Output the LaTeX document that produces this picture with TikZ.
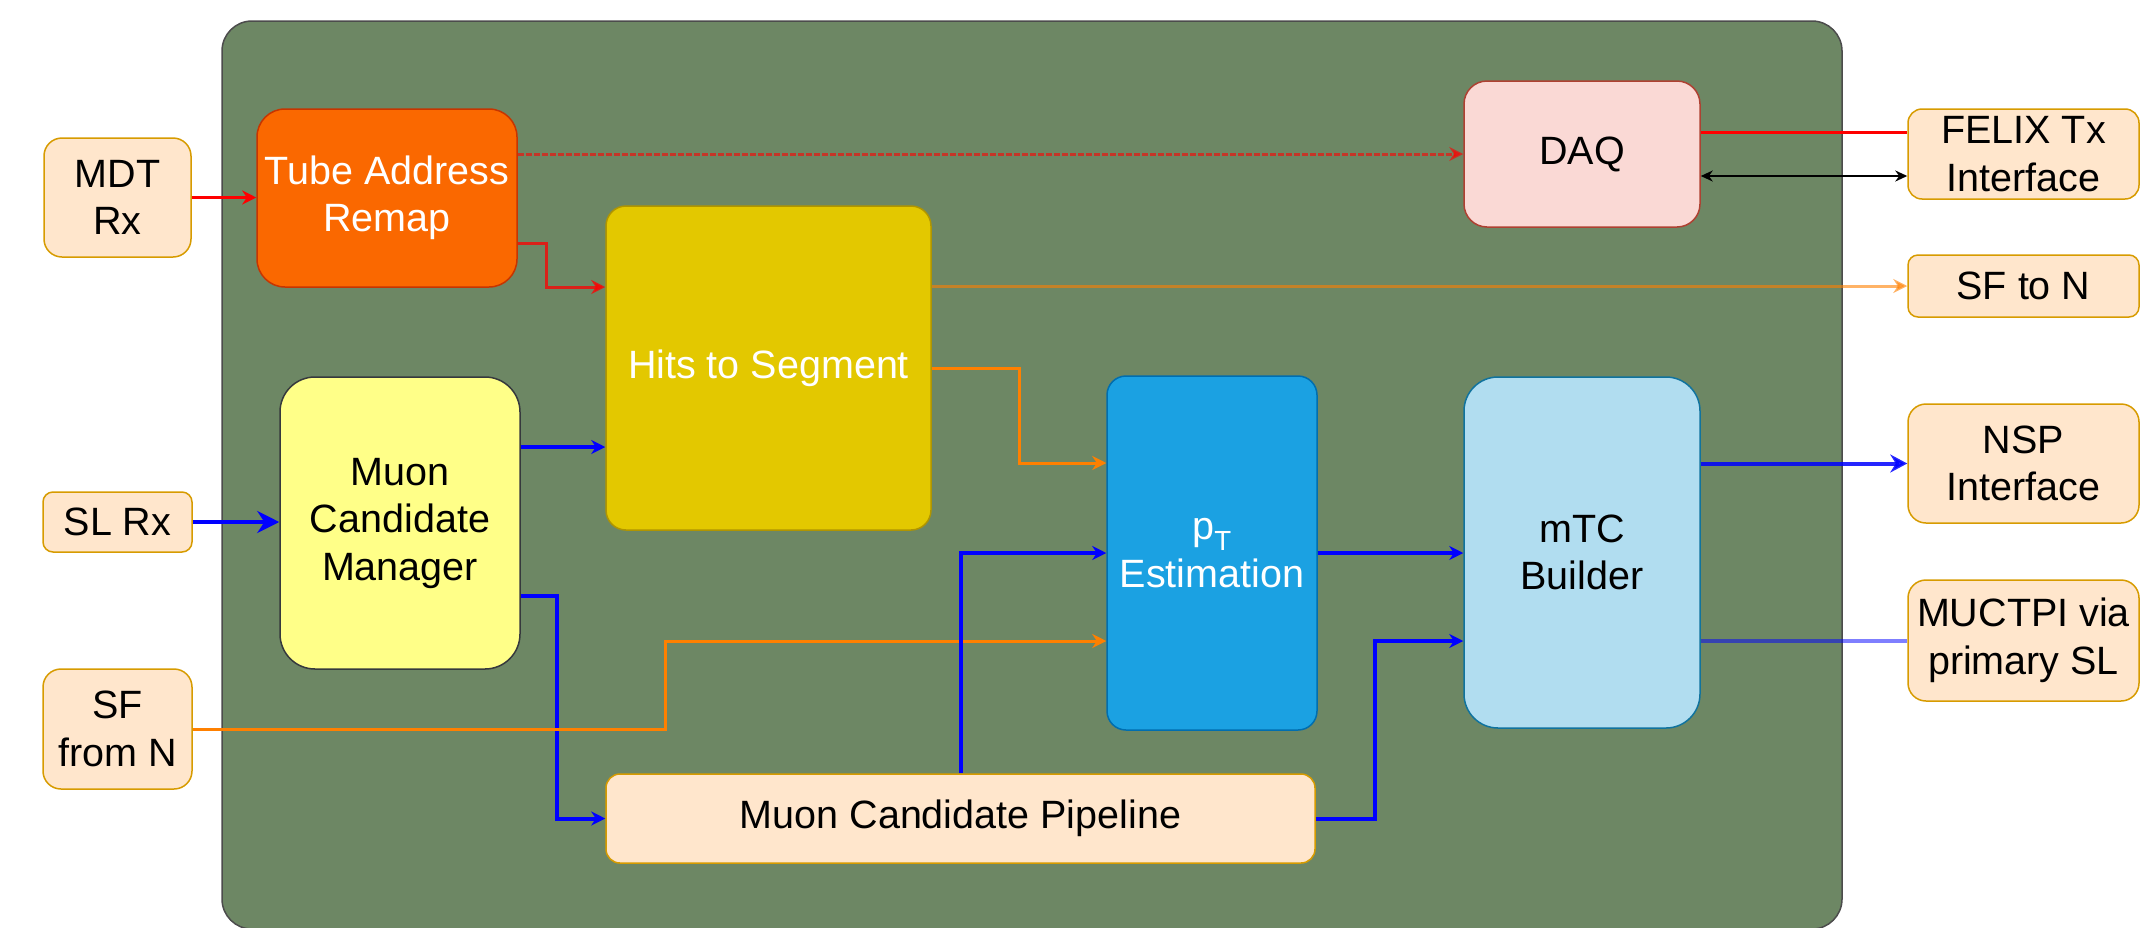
\documentclass[tikz,border=0pt]{standalone}
\usepackage{fontspec}
\setmainfont{Liberation Sans}
\usetikzlibrary{arrows.meta}
\definecolor{cgreen}{HTML}{6D8764}
\definecolor{cpeach}{HTML}{FFE6CC}
\definecolor{cpeachd}{HTML}{D79B00}
\definecolor{ctar}{HTML}{FA6800}
\definecolor{ctard}{HTML}{C73500}
\definecolor{chits}{HTML}{E3C800}
\definecolor{chitsd}{HTML}{B09500}
\definecolor{cmcm}{HTML}{FFFF88}
\definecolor{cmcmd}{HTML}{36393D}
\definecolor{cpt}{HTML}{1BA1E2}
\definecolor{cptd}{HTML}{006EAF}
\definecolor{cmtc}{HTML}{B1DDF0}
\definecolor{cmtcd}{HTML}{10739E}
\definecolor{cdaq}{HTML}{FAD9D5}
\definecolor{cdaqd}{HTML}{AE4132}
\definecolor{corange}{HTML}{FF8000}
\begin{document}
\begin{tikzpicture}[x=1pt,y=1pt,
  blk/.style={draw, line width=1.5pt, align=center, inner sep=0pt,
    font=\fontsize{39.5}{47.5}\selectfont},
  ext/.style={blk, fill=cpeach, draw=cpeachd},
  tip/.style={-{Stealth[length=14pt,width=14pt]}},
  blueline/.style={draw=blue, line width=4pt},
  orangeline/.style={draw=corange, line width=3pt},
  redline/.style={draw=red, line width=3pt}]
\useasboundingbox (0,0) rectangle (2141,-927);
% container
\draw[fill=cgreen, draw=black!70, line width=1.5pt, rounded corners=30] (222,-21) rectangle (1842,-929);
% external boxes
\node[ext, minimum width=147, minimum height=119, rounded corners=18] (mdt) at (117.5,-197.5) {MDT\\Rx};
\node[ext, minimum width=149, minimum height=60, rounded corners=10] (slrx) at (117.5,-522) {SL Rx};
\node[ext, minimum width=149, minimum height=120, rounded corners=18] (sffrom) at (117.5,-729) {SF\\from N};
\node[ext, minimum width=231, minimum height=90, rounded corners=14] (felix) at (2023.5,-154) {FELIX Tx\\Interface};
\node[ext, minimum width=231, minimum height=62, rounded corners=10] (sfto) at (2023.5,-286) {SF to N};
\node[ext, minimum width=231, minimum height=119, rounded corners=18] (nsp) at (2023.5,-463.5) {NSP\\Interface};
\node[ext, minimum width=231, minimum height=121, rounded corners=18] (muctpi) at (2023.5,-640.5) {MUCTPI via\\primary SL};
% internal blocks
\node[blk, fill=ctar, draw=ctard, text=white, minimum width=260, minimum height=178, rounded corners=28] (tar) at (387,-198) {Tube Address\\Remap};
\node[blk, fill=cmcm, draw=cmcmd, minimum width=240, minimum height=292, rounded corners=35] (mcm) at (400,-523) {Muon\\Candidate\\Manager};
\node[blk, fill=chits, draw=chitsd, text=white, minimum width=325, minimum height=324, rounded corners=20] (hits) at (768.5,-368) {Hits to Segment};
\node[blk, fill=cpt, draw=cptd, text=white, minimum width=210, minimum height=354, rounded corners=19] (pt) at (1212,-553) {p\textsubscript{T}\\Estimation};
\node[blk, fill=cmtc, draw=cmtcd, minimum width=236, minimum height=351, rounded corners=34] (mtc) at (1582,-552.5) {mTC\\Builder};
\node[blk, fill=cdaq, draw=cdaqd, minimum width=236, minimum height=146, rounded corners=23] (daq) at (1582,-154) {DAQ};
\node[ext, minimum width=709, minimum height=89, rounded corners=14] (pipe) at (960.5,-818.5) {Muon Candidate Pipeline};
% connectors
\draw[redline, tip] (mdt.east) -- (mdt.east -| tar.west);
\draw[draw=red, opacity=0.6, line width=3pt, dash pattern=on 6pt off 2pt, tip] (tar.east |- daq.west) -- (daq.west);
\draw[draw=red, opacity=0.75, line width=3pt, tip] (tar.east |- 0,-243) -| (546,-287) -- (hits.west |- 0,-287);
\draw[redline] (daq.east |- 0,-132) -- (felix.west |- 0,-132);
\draw[line width=2pt, {Stealth[length=12pt,width=11pt]}-{Stealth[length=12pt,width=11pt]}] (daq.east |- 0,-176) -- (felix.west |- 0,-176);
\draw[orangeline, opacity=0.6, tip] (hits.east |- sfto.west) -- (sfto.west);
\draw[orangeline, tip] (hits.east) -| (1019,-463) -- (pt.west |- 0,-463);
\draw[blueline, tip] (mcm.east |- 0,-447) -- (hits.west |- 0,-447);
\draw[blueline, -{Stealth[length=22pt,width=22pt]}] (slrx.east) -- (slrx.east -| mcm.west);
\draw[blueline, tip] (mcm.east |- 0,-596) -| (557,-818.5) -- (pipe.west);
\draw[orangeline, tip] (sffrom.east) -| (665,-641) -- (pt.west |- 0,-641);
\draw[blueline, tip] (pipe.north) |- (pt.west);
\draw[blueline, tip] (pt.east) -- (pt.east -| mtc.west);
\draw[blueline, tip] (pipe.east) -| (1375,-641) -- (mtc.west |- 0,-641);
\draw[blueline, opacity=0.85, -{Stealth[length=17pt,width=18pt]}] (mtc.east |- nsp.west) -- (nsp.west);
\draw[blueline, opacity=0.5] (mtc.east |- muctpi.west) -- (muctpi.west);
\end{tikzpicture}
\end{document}
